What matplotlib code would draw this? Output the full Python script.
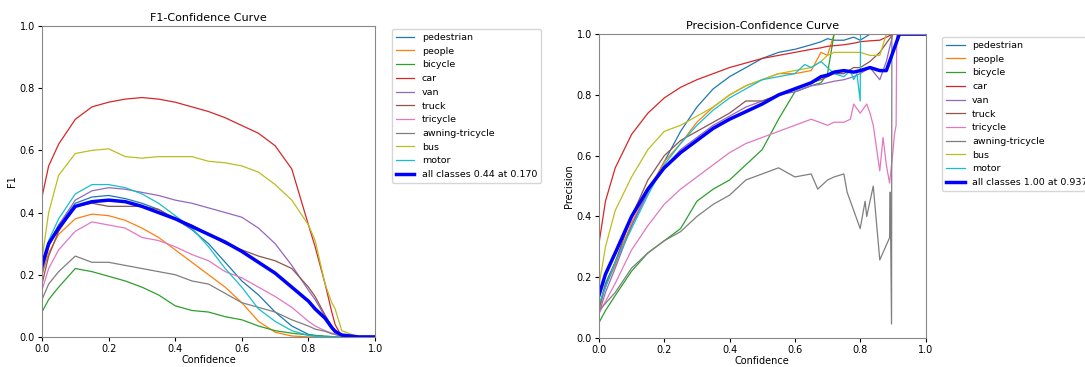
import matplotlib
matplotlib.use('Agg')
import matplotlib.pyplot as plt

names = ['pedestrian', 'people', 'bicycle', 'car', 'van', 'truck', 'tricycle', 'awning-tricycle', 'bus', 'motor']
colors = ['tab:blue', 'tab:orange', 'tab:green', 'tab:red', 'tab:purple', 'tab:brown', 'tab:pink', 'tab:gray', 'tab:olive', 'tab:cyan']

# F1 curves, read on a common confidence grid
f1_conf = [0.0, 0.02, 0.05, 0.1, 0.15, 0.2, 0.25, 0.3, 0.35, 0.4, 0.45, 0.5, 0.55, 0.6, 0.65, 0.7, 0.75, 0.8, 0.82, 0.85, 0.87, 0.88, 0.9, 0.95, 1.0]
f1_pedestrian = [0.21, 0.30, 0.36, 0.43, 0.45, 0.455, 0.445, 0.43, 0.41, 0.38, 0.345, 0.30, 0.24, 0.18, 0.135, 0.08, 0.035, 0.008, 0.005, 0.002, 0.001, 0.0, 0.0, 0.0, 0.0]
f1_people = [0.20, 0.27, 0.33, 0.38, 0.395, 0.39, 0.375, 0.35, 0.32, 0.28, 0.24, 0.20, 0.16, 0.11, 0.05, 0.015, 0.003, 0.0, 0.0, 0.0, 0.0, 0.0, 0.0, 0.0, 0.0]
f1_bicycle = [0.08, 0.12, 0.16, 0.22, 0.21, 0.195, 0.18, 0.16, 0.135, 0.10, 0.085, 0.08, 0.065, 0.055, 0.035, 0.02, 0.012, 0.006, 0.004, 0.002, 0.001, 0.0, 0.0, 0.0, 0.0]
f1_car = [0.45, 0.55, 0.62, 0.70, 0.74, 0.755, 0.765, 0.77, 0.765, 0.755, 0.74, 0.725, 0.705, 0.68, 0.655, 0.615, 0.54, 0.36, 0.29, 0.17, 0.08, 0.04, 0.0, 0.0, 0.0]
f1_van = [0.20, 0.29, 0.36, 0.44, 0.47, 0.48, 0.475, 0.465, 0.455, 0.44, 0.43, 0.415, 0.40, 0.385, 0.35, 0.30, 0.23, 0.15, 0.12, 0.065, 0.035, 0.02, 0.003, 0.0, 0.0]
f1_truck = [0.17, 0.26, 0.34, 0.42, 0.43, 0.42, 0.42, 0.42, 0.41, 0.38, 0.36, 0.33, 0.30, 0.28, 0.26, 0.245, 0.22, 0.16, 0.13, 0.07, 0.035, 0.02, 0.003, 0.0, 0.0]
f1_tricycle = [0.15, 0.22, 0.28, 0.34, 0.37, 0.36, 0.35, 0.32, 0.31, 0.29, 0.265, 0.245, 0.21, 0.19, 0.16, 0.13, 0.095, 0.05, 0.035, 0.02, 0.012, 0.01, 0.0, 0.0, 0.0]
f1_awning = [0.12, 0.17, 0.21, 0.26, 0.24, 0.24, 0.23, 0.22, 0.21, 0.20, 0.18, 0.17, 0.14, 0.11, 0.095, 0.08, 0.055, 0.035, 0.025, 0.018, 0.01, 0.008, 0.0, 0.0, 0.0]
f1_bus = [0.25, 0.40, 0.52, 0.59, 0.60, 0.605, 0.58, 0.575, 0.58, 0.58, 0.58, 0.565, 0.56, 0.55, 0.53, 0.49, 0.44, 0.36, 0.31, 0.17, 0.11, 0.09, 0.02, 0.0, 0.0]
f1_motor = [0.22, 0.31, 0.38, 0.46, 0.49, 0.49, 0.48, 0.46, 0.43, 0.39, 0.35, 0.29, 0.22, 0.16, 0.09, 0.05, 0.02, 0.005, 0.002, 0.0, 0.0, 0.0, 0.0, 0.0, 0.0]
f1_all = [0.23, 0.30, 0.35, 0.42, 0.435, 0.44, 0.435, 0.42, 0.40, 0.38, 0.355, 0.33, 0.305, 0.275, 0.24, 0.205, 0.16, 0.115, 0.09, 0.06, 0.03, 0.018, 0.006, 0.0, 0.0]

# Precision curves, read on a common confidence grid
p_conf = [0.0, 0.02, 0.05, 0.1, 0.15, 0.2, 0.25, 0.3, 0.35, 0.4, 0.45, 0.5, 0.55, 0.6, 0.65, 0.68, 0.7, 0.72, 0.75, 0.78, 0.8, 0.83, 0.86, 0.88, 0.9, 0.92, 0.95, 1.0]
p_pedestrian = [0.10, 0.18, 0.25, 0.37, 0.48, 0.58, 0.68, 0.76, 0.82, 0.86, 0.89, 0.92, 0.94, 0.95, 0.965, 0.975, 0.985, 0.98, 0.98, 0.99, 0.98, 1.0, 1.0, 1.0, 1.0, 1.0, 1.0, 1.0]
p_people = [0.09, 0.17, 0.24, 0.38, 0.48, 0.58, 0.64, 0.71, 0.76, 0.80, 0.83, 0.85, 0.87, 0.87, 0.88, 0.94, 0.93, 1.0, 1.0, 1.0, 1.0, 1.0, 1.0, 1.0, 1.0, 1.0, 1.0, 1.0]
p_bicycle = [0.05, 0.09, 0.14, 0.22, 0.28, 0.32, 0.36, 0.45, 0.49, 0.52, 0.57, 0.62, 0.72, 0.81, 0.83, 0.84, 0.87, 1.0, 1.0, 1.0, 1.0, 1.0, 1.0, 1.0, 1.0, 1.0, 1.0, 1.0]
p_car = [0.31, 0.45, 0.56, 0.67, 0.74, 0.79, 0.825, 0.85, 0.87, 0.89, 0.905, 0.92, 0.93, 0.94, 0.95, 0.955, 0.96, 0.962, 0.965, 0.97, 0.975, 0.978, 0.98, 0.99, 1.0, 1.0, 1.0, 1.0]
p_van = [0.08, 0.15, 0.23, 0.37, 0.48, 0.56, 0.62, 0.66, 0.70, 0.73, 0.76, 0.78, 0.80, 0.81, 0.83, 0.835, 0.84, 0.845, 0.85, 0.86, 0.87, 0.89, 0.85, 0.91, 1.0, 1.0, 1.0, 1.0]
p_truck = [0.10, 0.17, 0.25, 0.40, 0.52, 0.60, 0.65, 0.68, 0.71, 0.74, 0.78, 0.78, 0.80, 0.82, 0.84, 0.85, 0.86, 0.87, 0.87, 0.89, 0.89, 0.91, 0.94, 0.97, 1.0, 1.0, 1.0, 1.0]
p_bus = [0.17, 0.30, 0.42, 0.53, 0.62, 0.68, 0.70, 0.73, 0.76, 0.80, 0.83, 0.85, 0.87, 0.88, 0.89, 0.91, 0.93, 0.94, 0.94, 0.94, 0.94, 0.93, 0.93, 1.0, 1.0, 1.0, 1.0, 1.0]
p_all = [0.14, 0.21, 0.28, 0.40, 0.49, 0.56, 0.61, 0.65, 0.69, 0.72, 0.745, 0.77, 0.80, 0.82, 0.84, 0.86, 0.865, 0.875, 0.88, 0.875, 0.88, 0.89, 0.88, 0.88, 0.94, 1.0, 1.0, 1.0]

# curves with sharp jumps near the end keep their own confidence points
p_tricycle_conf = [0.0, 0.05, 0.1, 0.15, 0.2, 0.25, 0.3, 0.35, 0.4, 0.45, 0.5, 0.55, 0.6, 0.65, 0.7, 0.72, 0.75, 0.77, 0.78, 0.8, 0.82, 0.83, 0.84, 0.86, 0.87, 0.88, 0.89, 0.9, 0.905, 0.91, 0.912]
p_tricycle = [0.08, 0.18, 0.29, 0.37, 0.44, 0.49, 0.53, 0.57, 0.61, 0.64, 0.66, 0.68, 0.70, 0.72, 0.70, 0.71, 0.71, 0.72, 0.77, 0.74, 0.77, 0.74, 0.70, 0.55, 0.66, 0.57, 0.51, 0.61, 0.67, 0.70, 1.0]
p_awning_conf = [0.0, 0.05, 0.1, 0.15, 0.2, 0.25, 0.3, 0.35, 0.4, 0.45, 0.5, 0.55, 0.6, 0.65, 0.67, 0.7, 0.72, 0.75, 0.76, 0.78, 0.8, 0.815, 0.82, 0.84, 0.86, 0.89, 0.892, 0.896, 0.897]
p_awning = [0.09, 0.15, 0.23, 0.28, 0.32, 0.35, 0.40, 0.44, 0.47, 0.52, 0.54, 0.56, 0.53, 0.54, 0.49, 0.52, 0.53, 0.54, 0.48, 0.42, 0.36, 0.45, 0.40, 0.50, 0.257, 0.33, 0.48, 0.046, 1.0]
p_motor_conf = [0.0, 0.05, 0.1, 0.15, 0.2, 0.25, 0.3, 0.35, 0.4, 0.45, 0.5, 0.55, 0.6, 0.63, 0.65, 0.68, 0.7, 0.72, 0.75, 0.77, 0.78, 0.79, 0.8, 0.801]
p_motor = [0.11, 0.25, 0.36, 0.47, 0.57, 0.64, 0.70, 0.75, 0.79, 0.82, 0.85, 0.86, 0.87, 0.90, 0.89, 0.91, 0.89, 0.87, 0.86, 0.88, 0.85, 0.87, 0.78, 1.0]

f1_curves = [f1_pedestrian, f1_people, f1_bicycle, f1_car, f1_van, f1_truck, f1_tricycle, f1_awning, f1_bus, f1_motor]
p_curves = [(p_conf, p_pedestrian), (p_conf, p_people), (p_conf, p_bicycle), (p_conf, p_car), (p_conf, p_van),
            (p_conf, p_truck), (p_tricycle_conf, p_tricycle), (p_awning_conf, p_awning), (p_conf, p_bus), (p_motor_conf, p_motor)]

fig = plt.figure(figsize=(10.85, 3.67), dpi=100)
ax1 = fig.add_axes([0.0387, 0.082, 0.307, 0.847])
ax2 = fig.add_axes([0.552, 0.079, 0.301, 0.828])

for ys, n, c in zip(f1_curves, names, colors):
    ax1.plot(f1_conf, ys, color=c, lw=0.9, label=n)
ax1.plot(f1_conf, f1_all, color='blue', lw=2.5, label='all classes 0.44 at 0.170')

for (xs, ys), n, c in zip(p_curves, names, colors):
    ax2.plot(xs, ys, color=c, lw=0.9, label=n)
ax2.plot(p_conf, p_all, color='blue', lw=2.5, label='all classes 1.00 at 0.937')

for ax, title, ylab in [(ax1, 'F1-Confidence Curve', 'F1'), (ax2, 'Precision-Confidence Curve', 'Precision')]:
    ax.set_xlim(0, 1)
    ax.set_ylim(0, 1)
    ax.set_title(title, fontsize=8, pad=4)
    ax.set_xlabel('Confidence', fontsize=7, labelpad=1)
    ax.set_ylabel(ylab, fontsize=7, labelpad=2)
    ax.tick_params(labelsize=7, length=3, pad=2)
    for s in ax.spines.values():
        s.set_color('#888888')
    ax.legend(loc='upper left', bbox_to_anchor=(1.05, 0.99), fontsize=6.8, frameon=True, borderaxespad=0)

plt.savefig('out.png', dpi=100)
